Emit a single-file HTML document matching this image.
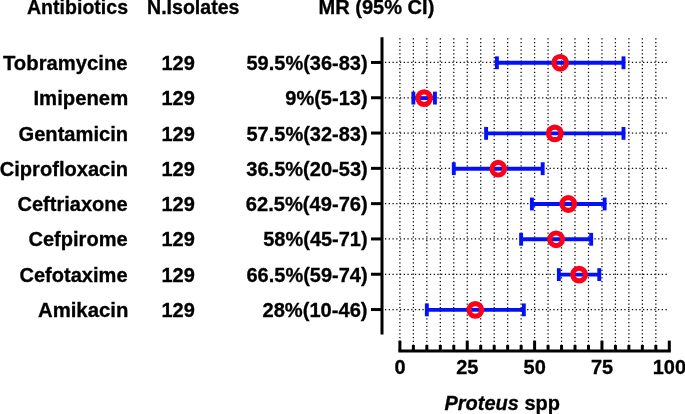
<!DOCTYPE html>
<html><head><meta charset="utf-8"><title>Proteus spp forest plot</title>
<style>
html,body{margin:0;padding:0;background:#fff;}
svg{display:block;}
text{font-family:"Liberation Sans",sans-serif;font-weight:bold;font-size:20.0px;fill:#000;stroke:#000;stroke-width:0.3;}
</style></head><body>
<svg width="685" height="414" viewBox="0 0 685 414">
<rect width="685" height="414" fill="#fff"/>

<g stroke="#000" stroke-width="1.25" stroke-dasharray="1.25 2.485" fill="none">
<line x1="399.90" y1="38.2" x2="399.90" y2="346"/>
<line x1="413.37" y1="38.2" x2="413.37" y2="346"/>
<line x1="426.84" y1="38.2" x2="426.84" y2="346"/>
<line x1="440.31" y1="38.2" x2="440.31" y2="346"/>
<line x1="453.78" y1="38.2" x2="453.78" y2="346"/>
<line x1="467.25" y1="38.2" x2="467.25" y2="346"/>
<line x1="480.72" y1="38.2" x2="480.72" y2="346"/>
<line x1="494.19" y1="38.2" x2="494.19" y2="346"/>
<line x1="507.66" y1="38.2" x2="507.66" y2="346"/>
<line x1="521.13" y1="38.2" x2="521.13" y2="346"/>
<line x1="534.60" y1="38.2" x2="534.60" y2="346"/>
<line x1="548.07" y1="38.2" x2="548.07" y2="346"/>
<line x1="561.54" y1="38.2" x2="561.54" y2="346"/>
<line x1="575.01" y1="38.2" x2="575.01" y2="346"/>
<line x1="588.48" y1="38.2" x2="588.48" y2="346"/>
<line x1="601.95" y1="38.2" x2="601.95" y2="346"/>
<line x1="615.42" y1="38.2" x2="615.42" y2="346"/>
<line x1="628.89" y1="38.2" x2="628.89" y2="346"/>
<line x1="642.36" y1="38.2" x2="642.36" y2="346"/>
<line x1="655.83" y1="38.2" x2="655.83" y2="346"/>
<line x1="385" y1="62.45" x2="667.6" y2="62.45" stroke-dasharray="1.25 2.49"/>
<line x1="385" y1="97.75" x2="667.6" y2="97.75" stroke-dasharray="1.25 2.49"/>
<line x1="385" y1="133.05" x2="667.6" y2="133.05" stroke-dasharray="1.25 2.49"/>
<line x1="385" y1="168.35" x2="667.6" y2="168.35" stroke-dasharray="1.25 2.49"/>
<line x1="385" y1="203.65" x2="667.6" y2="203.65" stroke-dasharray="1.25 2.49"/>
<line x1="385" y1="238.95" x2="667.6" y2="238.95" stroke-dasharray="1.25 2.49"/>
<line x1="385" y1="274.25" x2="667.6" y2="274.25" stroke-dasharray="1.25 2.49"/>
<line x1="385" y1="309.55" x2="667.6" y2="309.55" stroke-dasharray="1.25 2.49"/>
</g>
<g stroke="#000" stroke-width="3" fill="none" stroke-linecap="butt">
<line x1="382" y1="37.3" x2="382" y2="334.5"/>
<line x1="371" y1="62.45" x2="382" y2="62.45"/>
<line x1="371" y1="97.75" x2="382" y2="97.75"/>
<line x1="371" y1="133.05" x2="382" y2="133.05"/>
<line x1="371" y1="168.35" x2="382" y2="168.35"/>
<line x1="371" y1="203.65" x2="382" y2="203.65"/>
<line x1="371" y1="238.95" x2="382" y2="238.95"/>
<line x1="371" y1="274.25" x2="382" y2="274.25"/>
<line x1="371" y1="309.55" x2="382" y2="309.55"/>
<line x1="398.40" y1="351" x2="670.80" y2="351"/>
<line x1="399.90" y1="340.6" x2="399.90" y2="351"/>
<line x1="413.37" y1="345.0" x2="413.37" y2="351"/>
<line x1="426.84" y1="345.0" x2="426.84" y2="351"/>
<line x1="440.31" y1="345.0" x2="440.31" y2="351"/>
<line x1="453.78" y1="345.0" x2="453.78" y2="351"/>
<line x1="467.25" y1="340.6" x2="467.25" y2="351"/>
<line x1="480.72" y1="345.0" x2="480.72" y2="351"/>
<line x1="494.19" y1="345.0" x2="494.19" y2="351"/>
<line x1="507.66" y1="345.0" x2="507.66" y2="351"/>
<line x1="521.13" y1="345.0" x2="521.13" y2="351"/>
<line x1="534.60" y1="340.6" x2="534.60" y2="351"/>
<line x1="548.07" y1="345.0" x2="548.07" y2="351"/>
<line x1="561.54" y1="345.0" x2="561.54" y2="351"/>
<line x1="575.01" y1="345.0" x2="575.01" y2="351"/>
<line x1="588.48" y1="345.0" x2="588.48" y2="351"/>
<line x1="601.95" y1="340.6" x2="601.95" y2="351"/>
<line x1="615.42" y1="345.0" x2="615.42" y2="351"/>
<line x1="628.89" y1="345.0" x2="628.89" y2="351"/>
<line x1="642.36" y1="345.0" x2="642.36" y2="351"/>
<line x1="655.83" y1="345.0" x2="655.83" y2="351"/>
<line x1="669.30" y1="340.6" x2="669.30" y2="351"/>
</g>
<g stroke="#0410f8" stroke-width="3.9" fill="none">
<line x1="496.88" y1="62.80" x2="623.50" y2="62.80"/>
<line x1="496.88" y1="56.35" x2="496.88" y2="69.20"/>
<line x1="623.50" y1="56.35" x2="623.50" y2="69.20"/>
</g>
<circle cx="560.19" cy="62.80" r="6.3" fill="none" stroke="#fb0018" stroke-width="5.2"/>
<g stroke="#0410f8" stroke-width="3.9" fill="none">
<line x1="413.37" y1="98.10" x2="434.92" y2="98.10"/>
<line x1="413.37" y1="91.65" x2="413.37" y2="104.50"/>
<line x1="434.92" y1="91.65" x2="434.92" y2="104.50"/>
</g>
<circle cx="424.15" cy="98.10" r="6.3" fill="none" stroke="#fb0018" stroke-width="5.2"/>
<g stroke="#0410f8" stroke-width="3.9" fill="none">
<line x1="486.11" y1="133.40" x2="623.50" y2="133.40"/>
<line x1="486.11" y1="126.95" x2="486.11" y2="139.80"/>
<line x1="623.50" y1="126.95" x2="623.50" y2="139.80"/>
</g>
<circle cx="554.80" cy="133.40" r="6.3" fill="none" stroke="#fb0018" stroke-width="5.2"/>
<g stroke="#0410f8" stroke-width="3.9" fill="none">
<line x1="453.78" y1="168.70" x2="542.68" y2="168.70"/>
<line x1="453.78" y1="162.25" x2="453.78" y2="175.10"/>
<line x1="542.68" y1="162.25" x2="542.68" y2="175.10"/>
</g>
<circle cx="498.23" cy="168.70" r="6.3" fill="none" stroke="#fb0018" stroke-width="5.2"/>
<g stroke="#0410f8" stroke-width="3.9" fill="none">
<line x1="531.91" y1="204.00" x2="604.64" y2="204.00"/>
<line x1="531.91" y1="197.55" x2="531.91" y2="210.40"/>
<line x1="604.64" y1="197.55" x2="604.64" y2="210.40"/>
</g>
<circle cx="568.27" cy="204.00" r="6.3" fill="none" stroke="#fb0018" stroke-width="5.2"/>
<g stroke="#0410f8" stroke-width="3.9" fill="none">
<line x1="521.13" y1="239.30" x2="591.17" y2="239.30"/>
<line x1="521.13" y1="232.85" x2="521.13" y2="245.70"/>
<line x1="591.17" y1="232.85" x2="591.17" y2="245.70"/>
</g>
<circle cx="556.15" cy="239.30" r="6.3" fill="none" stroke="#fb0018" stroke-width="5.2"/>
<g stroke="#0410f8" stroke-width="3.9" fill="none">
<line x1="558.85" y1="274.60" x2="599.26" y2="274.60"/>
<line x1="558.85" y1="268.15" x2="558.85" y2="281.00"/>
<line x1="599.26" y1="268.15" x2="599.26" y2="281.00"/>
</g>
<circle cx="579.05" cy="274.60" r="6.3" fill="none" stroke="#fb0018" stroke-width="5.2"/>
<g stroke="#0410f8" stroke-width="3.9" fill="none">
<line x1="426.84" y1="309.90" x2="523.82" y2="309.90"/>
<line x1="426.84" y1="303.45" x2="426.84" y2="316.30"/>
<line x1="523.82" y1="303.45" x2="523.82" y2="316.30"/>
</g>
<circle cx="475.33" cy="309.90" r="6.3" fill="none" stroke="#fb0018" stroke-width="5.2"/>
<text id="h1" x="27.01" y="0" transform="translate(0 14.40) scale(1 1.025)" textLength="101.00" lengthAdjust="spacingAndGlyphs">Antibiotics</text>
<text id="h2" x="147.02" y="0" transform="translate(0 14.40) scale(1 1.025)" textLength="92.49" lengthAdjust="spacingAndGlyphs">N.Isolates</text>
<text id="h3" x="318.50" y="0" transform="translate(0 14.40) scale(1 1.025)" textLength="115.82" lengthAdjust="spacingAndGlyphs">MR (95% CI)</text>
<text id="n0" x="3.00" y="0" transform="translate(0 70.10) scale(1 1.025)" textLength="124.66" lengthAdjust="spacingAndGlyphs">Tobramycine</text>
<text id="c0" x="161.50" y="0" transform="translate(0 70.10) scale(1 1.025)" textLength="33.38" lengthAdjust="spacingAndGlyphs">129</text>
<text id="v0" x="246.50" y="0" transform="translate(0 70.10) scale(1 1.025)" textLength="121.13" lengthAdjust="spacingAndGlyphs">59.5%(36-83)</text>
<text id="n1" x="33.48" y="0" transform="translate(0 105.37) scale(1 1.025)" textLength="94.74" lengthAdjust="spacingAndGlyphs">Imipenem</text>
<text id="c1" x="161.50" y="0" transform="translate(0 105.37) scale(1 1.025)" textLength="33.38" lengthAdjust="spacingAndGlyphs">129</text>
<text id="v1" x="285.25" y="0" transform="translate(0 105.37) scale(1 1.025)" textLength="82.42" lengthAdjust="spacingAndGlyphs">9%(5-13)</text>
<text id="n2" x="18.49" y="0" transform="translate(0 140.64) scale(1 1.025)" textLength="109.68" lengthAdjust="spacingAndGlyphs">Gentamicin</text>
<text id="c2" x="161.50" y="0" transform="translate(0 140.64) scale(1 1.025)" textLength="33.38" lengthAdjust="spacingAndGlyphs">129</text>
<text id="v2" x="246.50" y="0" transform="translate(0 140.64) scale(1 1.025)" textLength="121.13" lengthAdjust="spacingAndGlyphs">57.5%(32-83)</text>
<text id="n3" x="-0.25" y="0" transform="translate(0 175.91) scale(1 1.025)" textLength="128.34" lengthAdjust="spacingAndGlyphs">Ciprofloxacin</text>
<text id="c3" x="161.50" y="0" transform="translate(0 175.91) scale(1 1.025)" textLength="33.38" lengthAdjust="spacingAndGlyphs">129</text>
<text id="v3" x="246.25" y="0" transform="translate(0 175.91) scale(1 1.025)" textLength="121.53" lengthAdjust="spacingAndGlyphs">36.5%(20-53)</text>
<text id="n4" x="17.50" y="0" transform="translate(0 211.18) scale(1 1.025)" textLength="110.23" lengthAdjust="spacingAndGlyphs">Ceftriaxone</text>
<text id="c4" x="161.50" y="0" transform="translate(0 211.18) scale(1 1.025)" textLength="33.38" lengthAdjust="spacingAndGlyphs">129</text>
<text id="v4" x="245.75" y="0" transform="translate(0 211.18) scale(1 1.025)" textLength="122.04" lengthAdjust="spacingAndGlyphs">62.5%(49-76)</text>
<text id="n5" x="28.50" y="0" transform="translate(0 246.45) scale(1 1.025)" textLength="99.17" lengthAdjust="spacingAndGlyphs">Cefpirome</text>
<text id="c5" x="161.50" y="0" transform="translate(0 246.45) scale(1 1.025)" textLength="33.38" lengthAdjust="spacingAndGlyphs">129</text>
<text id="v5" x="263.25" y="0" transform="translate(0 246.45) scale(1 1.025)" textLength="104.40" lengthAdjust="spacingAndGlyphs">58%(45-71)</text>
<text id="n6" x="19.50" y="0" transform="translate(0 281.72) scale(1 1.025)" textLength="108.07" lengthAdjust="spacingAndGlyphs">Cefotaxime</text>
<text id="c6" x="161.50" y="0" transform="translate(0 281.72) scale(1 1.025)" textLength="33.38" lengthAdjust="spacingAndGlyphs">129</text>
<text id="v6" x="246.50" y="0" transform="translate(0 281.72) scale(1 1.025)" textLength="121.13" lengthAdjust="spacingAndGlyphs">66.5%(59-74)</text>
<text id="n7" x="37.99" y="0" transform="translate(0 316.99) scale(1 1.025)" textLength="90.36" lengthAdjust="spacingAndGlyphs">Amikacin</text>
<text id="c7" x="161.50" y="0" transform="translate(0 316.99) scale(1 1.025)" textLength="33.38" lengthAdjust="spacingAndGlyphs">129</text>
<text id="v7" x="262.50" y="0" transform="translate(0 316.99) scale(1 1.025)" textLength="105.06" lengthAdjust="spacingAndGlyphs">28%(10-46)</text>
<text id="x0" x="400.00" y="0" text-anchor="middle" transform="translate(0 374.40) scale(1 1.025)">0</text>
<text id="x25" x="467.35" y="0" text-anchor="middle" transform="translate(0 374.40) scale(1 1.025)">25</text>
<text id="x50" x="534.70" y="0" text-anchor="middle" transform="translate(0 374.40) scale(1 1.025)">50</text>
<text id="x75" x="602.05" y="0" text-anchor="middle" transform="translate(0 374.40) scale(1 1.025)">75</text>
<text id="x100" x="669.40" y="0" text-anchor="middle" transform="translate(0 374.40) scale(1 1.025)">100</text>
<text id="xl" x="444.50" y="0" transform="translate(0 409.60) scale(1 1.025)" textLength="115.44" lengthAdjust="spacingAndGlyphs"><tspan font-style="italic">Proteus</tspan> spp</text>
</svg></body></html>
